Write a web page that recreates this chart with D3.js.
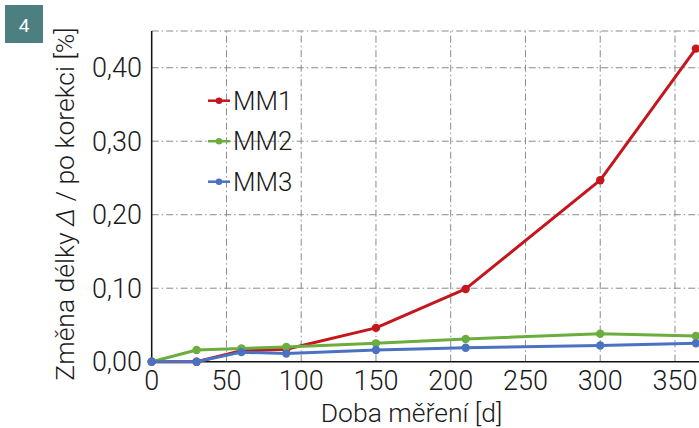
<!DOCTYPE html>
<html><head><meta charset="utf-8">
<script src="https://cdn.jsdelivr.net/npm/d3@7"></script>
<style>
body{margin:0;background:#fff;}
text{font-family:Roboto,"Liberation Sans",Arial,sans-serif;font-weight:300;fill:#1a1a1a;}
</style></head>
<body><svg id="c" width="699" height="428"></svg>
<script>
const days = [0, 30, 60, 90, 150, 210, 300, 364];
const seriesNames = ["MM1", "MM2", "MM3"];
const mm1 = [0, 0, 0.015, 0.017, 0.046, 0.099, 0.247, 0.426];
const mm2 = [0, 0.016, 0.018, 0.020, 0.025, 0.031, 0.038, 0.035];
const mm3 = [0, 0, 0.013, 0.011, 0.016, 0.019, 0.022, 0.025];
const xTicks = [0, 50, 100, 150, 200, 250, 300, 350];
const yTicks = [0, 0.10, 0.20, 0.30, 0.40];
const yGrid = [0.10, 0.20, 0.30, 0.40, 0.45];
const colors = ["#c4161c", "#6cad3f", "#4a72c0"];

const svg = d3.select("#c");
const x = d3.scaleLinear().domain([0, 365]).range([151.7, 697.4]);
const y = d3.scaleLinear().domain([0, 0.45]).range([361.7, 31]);

// badge
svg.append("rect").attr("x",5).attr("y",5).attr("width",38).attr("height",38).attr("fill","#4b7f80");
svg.append("text").attr("x",24).attr("y",31.5).attr("text-anchor","middle").style("fill","#fff").style("font-weight","400").style("font-size","19px").text("4");

// grid
const g = svg.append("g");
g.selectAll("line.hg").data(yGrid).join("line")
  .attr("x1", x(0)).attr("x2", 699).attr("y1", d=>y(d)).attr("y2", d=>y(d))
  .attr("stroke","#8a8a8a").attr("stroke-width",1).attr("stroke-dasharray","7,3,1.5,3");
g.selectAll("line.vg").data(xTicks.filter(d=>d>0)).join("line")
  .attr("x1", d=>x(d)).attr("x2", d=>x(d)).attr("y1", y(0)).attr("y2", y(0.45))
  .attr("stroke","#8a8a8a").attr("stroke-width",1).attr("stroke-dasharray","7,3,1.5,3");

// axes
svg.append("line").attr("x1",x(0)).attr("x2",x(0)).attr("y1",y(0.45)).attr("y2",y(0)).attr("stroke","#111").attr("stroke-width",1.5);
svg.append("line").attr("x1",x(0)).attr("x2",699).attr("y1",y(0)).attr("y2",y(0)).attr("stroke","#111").attr("stroke-width",1.5);

const fmt = d => d3.format(".2f")(d).replace(".", ",");
svg.selectAll("text.yt").data(yTicks).join("text")
  .attr("x", 142).attr("y", d=>y(d)+9.5).attr("text-anchor","end").style("font-size","27px").text(fmt);
svg.selectAll("text.xt").data(xTicks).join("text")
  .attr("x", d=>x(d)).attr("y", 390).attr("text-anchor","middle").style("font-size","27px").text(d=>d);

svg.append("text").attr("x", 411.5).attr("y", 422).attr("text-anchor","middle").style("font-size","26.5px").text("Doba měření [d]");
const yt = svg.append("text").attr("transform","translate(74,204) rotate(-90)").attr("text-anchor","middle").style("font-size","26.5px");
yt.append("tspan").text("Změna délky ");
yt.append("tspan").style("font-style","italic").text("Δ");
yt.append("tspan").text(" / po korekci [%]");

// series
const data = [mm1, mm2, mm3];
const line = d3.line().x((d,i)=>x(days[i])).y(d=>y(d));
data.forEach((s, k) => {
  svg.append("path").datum(s).attr("d", line).attr("fill","none").attr("stroke",colors[k]).attr("stroke-width",3).attr("stroke-linejoin","round");
  svg.selectAll("circle.s"+k).data(s).join("circle").attr("cx",(d,i)=>x(days[i])).attr("cy",d=>y(d)).attr("r",4.2).attr("fill",colors[k]);
});

// legend
seriesNames.forEach((n, k) => {
  const ly = 100.7 + k*40.5;
  svg.append("line").attr("x1",208).attr("x2",230).attr("y1",ly).attr("y2",ly).attr("stroke",colors[k]).attr("stroke-width",2.5);
  svg.append("circle").attr("cx",219).attr("cy",ly).attr("r",3.3).attr("fill",colors[k]);
  svg.append("text").attr("x",233).attr("y",ly+9).style("font-size","26px").text(n);
});
</script></body></html>
